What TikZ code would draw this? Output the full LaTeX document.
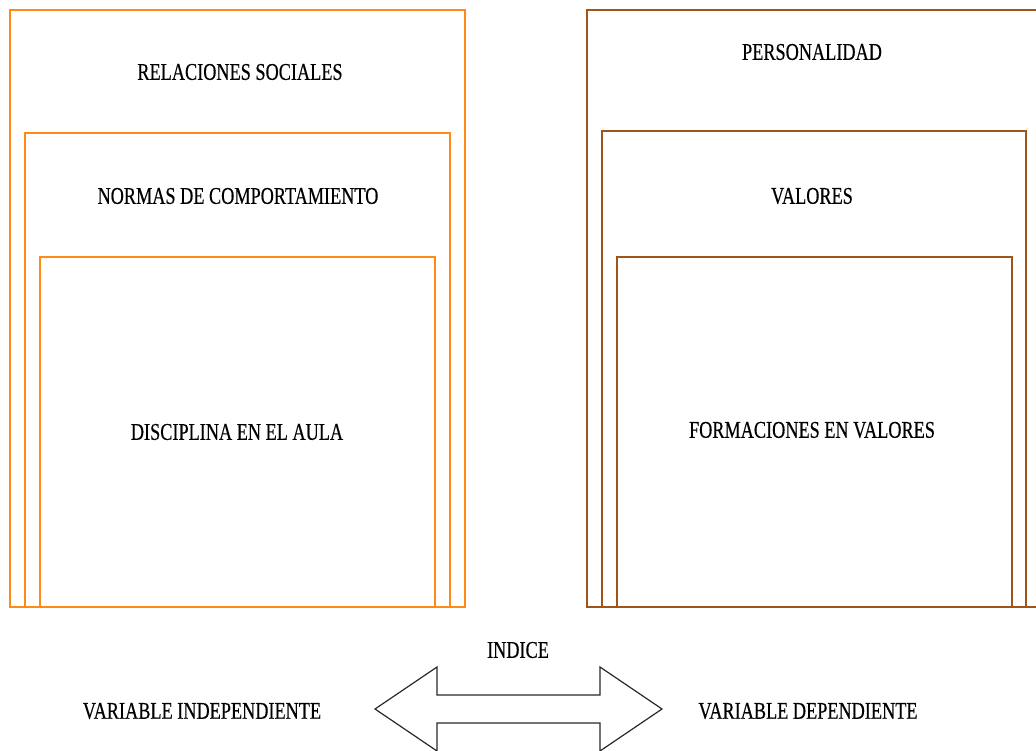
\documentclass[tikz,border=0pt]{standalone}
\usepackage{fontspec}
\newfontfamily\condfont[FakeStretch=0.76,FakeBold=0.4]{Liberation Serif}
\definecolor{lorange}{RGB}{255,138,20}
\definecolor{rbrown}{RGB}{160,84,24}
\definecolor{arrowgray}{RGB}{40,40,40}

\begin{document}
\begin{tikzpicture}
    [x=1pt, y=-1pt,
    lframe/.style={draw=lorange, line width=2.8pt},
    rframe/.style={draw=rbrown, line width=2.8pt},
    lbl/.style={font=\condfont\fontsize{24}{28}\selectfont, inner sep=0pt}]
  \useasboundingbox (0,0) rectangle (1036,751);

  \draw [lframe] (10,10) rectangle (465,607);
  \draw [lframe] (25,133) rectangle (450,607);
  \draw [lframe] (40,257) rectangle (435,607);

  \draw [rframe] (587,10) rectangle (1050,607);
  \draw [rframe] (602,131) rectangle (1026,607);
  \draw [rframe] (617,257) rectangle (1012,607);

  \node [lbl] (rel) at (240,72) {RELACIONES SOCIALES};
  \node [lbl] (nor) at (238,196) {NORMAS DE COMPORTAMIENTO};
  \node [lbl] (dis) at (237,432) {DISCIPLINA EN EL AULA};
  \node [lbl] (per) at (812,52) {PERSONALIDAD};
  \node [lbl] (val) at (812,196) {VALORES};
  \node [lbl] (for) at (812,430) {FORMACIONES EN VALORES};

  \node [lbl] (ind) at (518,650) {INDICE};
  \node [lbl] (vi) at (202,711) {VARIABLE INDEPENDIENTE};
  \node [lbl] (vd) at (808,711) {VARIABLE DEPENDIENTE};

  \draw [arrowgray, line width=1.2pt, line join=miter]
    (375,709) -- (437,667) -- (437,695) -- (600,695) -- (600,667)
    -- (662,709) -- (600,751) -- (600,723) -- (437,723) -- (437,751) -- cycle;
\end{tikzpicture}
\end{document}
